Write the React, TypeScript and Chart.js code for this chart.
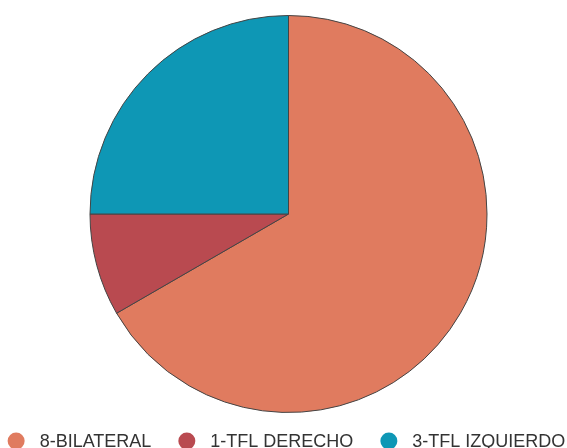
import React, { useEffect, useRef } from "react";
import { Chart, registerables } from "chart.js";
Chart.register(...registerables);

const labels = ["8-BILATERAL", "1-TFL DERECHO", "3-TFL IZQUIERDO"];
const values = [8, 1, 3];
const colors = ["#E07B5F", "#B94A50", "#0E97B5"];

const legendPlugin = {
  id: "bottomLegend",
  afterDraw(chart: any) {
    const ctx = chart.ctx as CanvasRenderingContext2D;
    const items: string[] = chart.data.labels;
    const bg: string[] = chart.data.datasets[0].backgroundColor;
    ctx.save();
    ctx.font = "18px 'Liberation Sans', Arial, sans-serif";
    ctx.textBaseline = "middle";
    ctx.textAlign = "left";
    const r = 8.5;
    const circleToText = 23.5;
    const textToCircle = 35.5;
    const widths = items.map((t) => ctx.measureText(t).width);
    let total = r;
    widths.forEach((w, i) => {
      total += circleToText + w;
      if (i < widths.length - 1) total += textToCircle;
    });
    let x = chart.width / 2 + 3 - total / 2 + r;
    const y = 441;
    items.forEach((t, i) => {
      ctx.beginPath();
      ctx.arc(x, y, r, 0, Math.PI * 2);
      ctx.fillStyle = bg[i];
      ctx.fill();
      ctx.fillStyle = "#333333";
      ctx.fillText(t, x + circleToText, y + 1);
      x += circleToText + widths[i] + textToCircle;
    });
    ctx.restore();
  },
};

export default function App() {
  const ref = useRef<HTMLCanvasElement>(null);
  useEffect(() => {
    document.body.style.margin = "0";
    const chart = new Chart(ref.current!, {
      type: "pie",
      data: {
        labels,
        datasets: [
          {
            data: values,
            backgroundColor: colors,
            borderColor: "#444444",
            borderWidth: 1,
          },
        ],
      },
      options: {
        animation: false,
        responsive: false,
        maintainAspectRatio: false,
        layout: { padding: { top: 15, bottom: 35, left: 10, right: 0 } },
        plugins: {
          tooltip: { enabled: false },
          legend: { display: false },
        },
      },
      plugins: [legendPlugin],
    });
    return () => chart.destroy();
  }, []);
  return (
    <div style={{ width: 567, height: 448 }}>
      <canvas ref={ref} width={567} height={448} />
    </div>
  );
}
